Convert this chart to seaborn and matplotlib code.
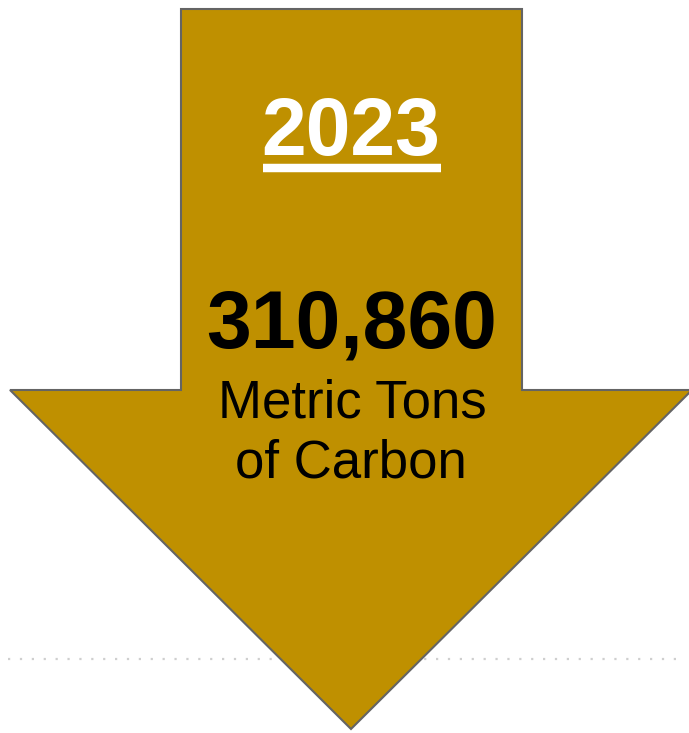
import matplotlib
matplotlib.use("Agg")
import matplotlib.pyplot as plt
import seaborn as sns
import pandas as pd

# ---- data ----
year_label = "2023"
value_label = "310,860"
unit_lines = ["Metric Tons", "of Carbon"]

# arrow geometry (pixel-like canvas units)
shaft_left, shaft_right = 181, 522
arrow_top, shoulder_y = 9, 390
head_left, head_right = 10, 692
tip_x, tip_y = 351, 729

sns.set_theme(style="white")
plt.rcParams['font.family'] = ['Liberation Sans', 'DejaVu Sans']

W, H = 689, 733
fig = plt.figure(figsize=(W / 100, H / 100), dpi=100)
ax = fig.add_axes([0, 0, 1, 1])
ax.set_xlim(0, W)
ax.set_ylim(H, 0)
ax.axis("off")

# dotted baseline
dots = pd.DataFrame({"x": [8, 682], "y": [659, 659]})
ax.plot(dots["x"], dots["y"], color="#cfcfcf", lw=1.6,
        dashes=(1, 4.35), solid_capstyle="butt", dash_capstyle="butt", zorder=1)

# arrow
xs = [shaft_left, shaft_right, shaft_right, head_right, tip_x, head_left, shaft_left, shaft_left]
ys = [arrow_top, arrow_top, shoulder_y, shoulder_y, tip_y, shoulder_y, shoulder_y, arrow_top]
ax.fill(xs, ys, facecolor="#BF9000", edgecolor="#646464", lw=1.5, zorder=2,
        joinstyle="miter")

cx = tip_x
ax.text(cx, 155.5, year_label, color="white", fontsize=58, fontweight="bold",
        ha="center", va="baseline", zorder=3)
ax.plot([263, 441], [167.5, 167.5], color="white", lw=6.1, solid_capstyle="butt", zorder=3)

ax.text(cx + 1, 348, value_label, color="black", fontsize=58, fontweight="bold",
        ha="center", va="baseline", zorder=3)
ax.text(cx + 1, 417, unit_lines[0], color="black", fontsize=38,
        ha="center", va="baseline", zorder=3)
ax.text(cx, 478, unit_lines[1], color="black", fontsize=38,
        ha="center", va="baseline", zorder=3)

fig.savefig("out.png", dpi=100)
